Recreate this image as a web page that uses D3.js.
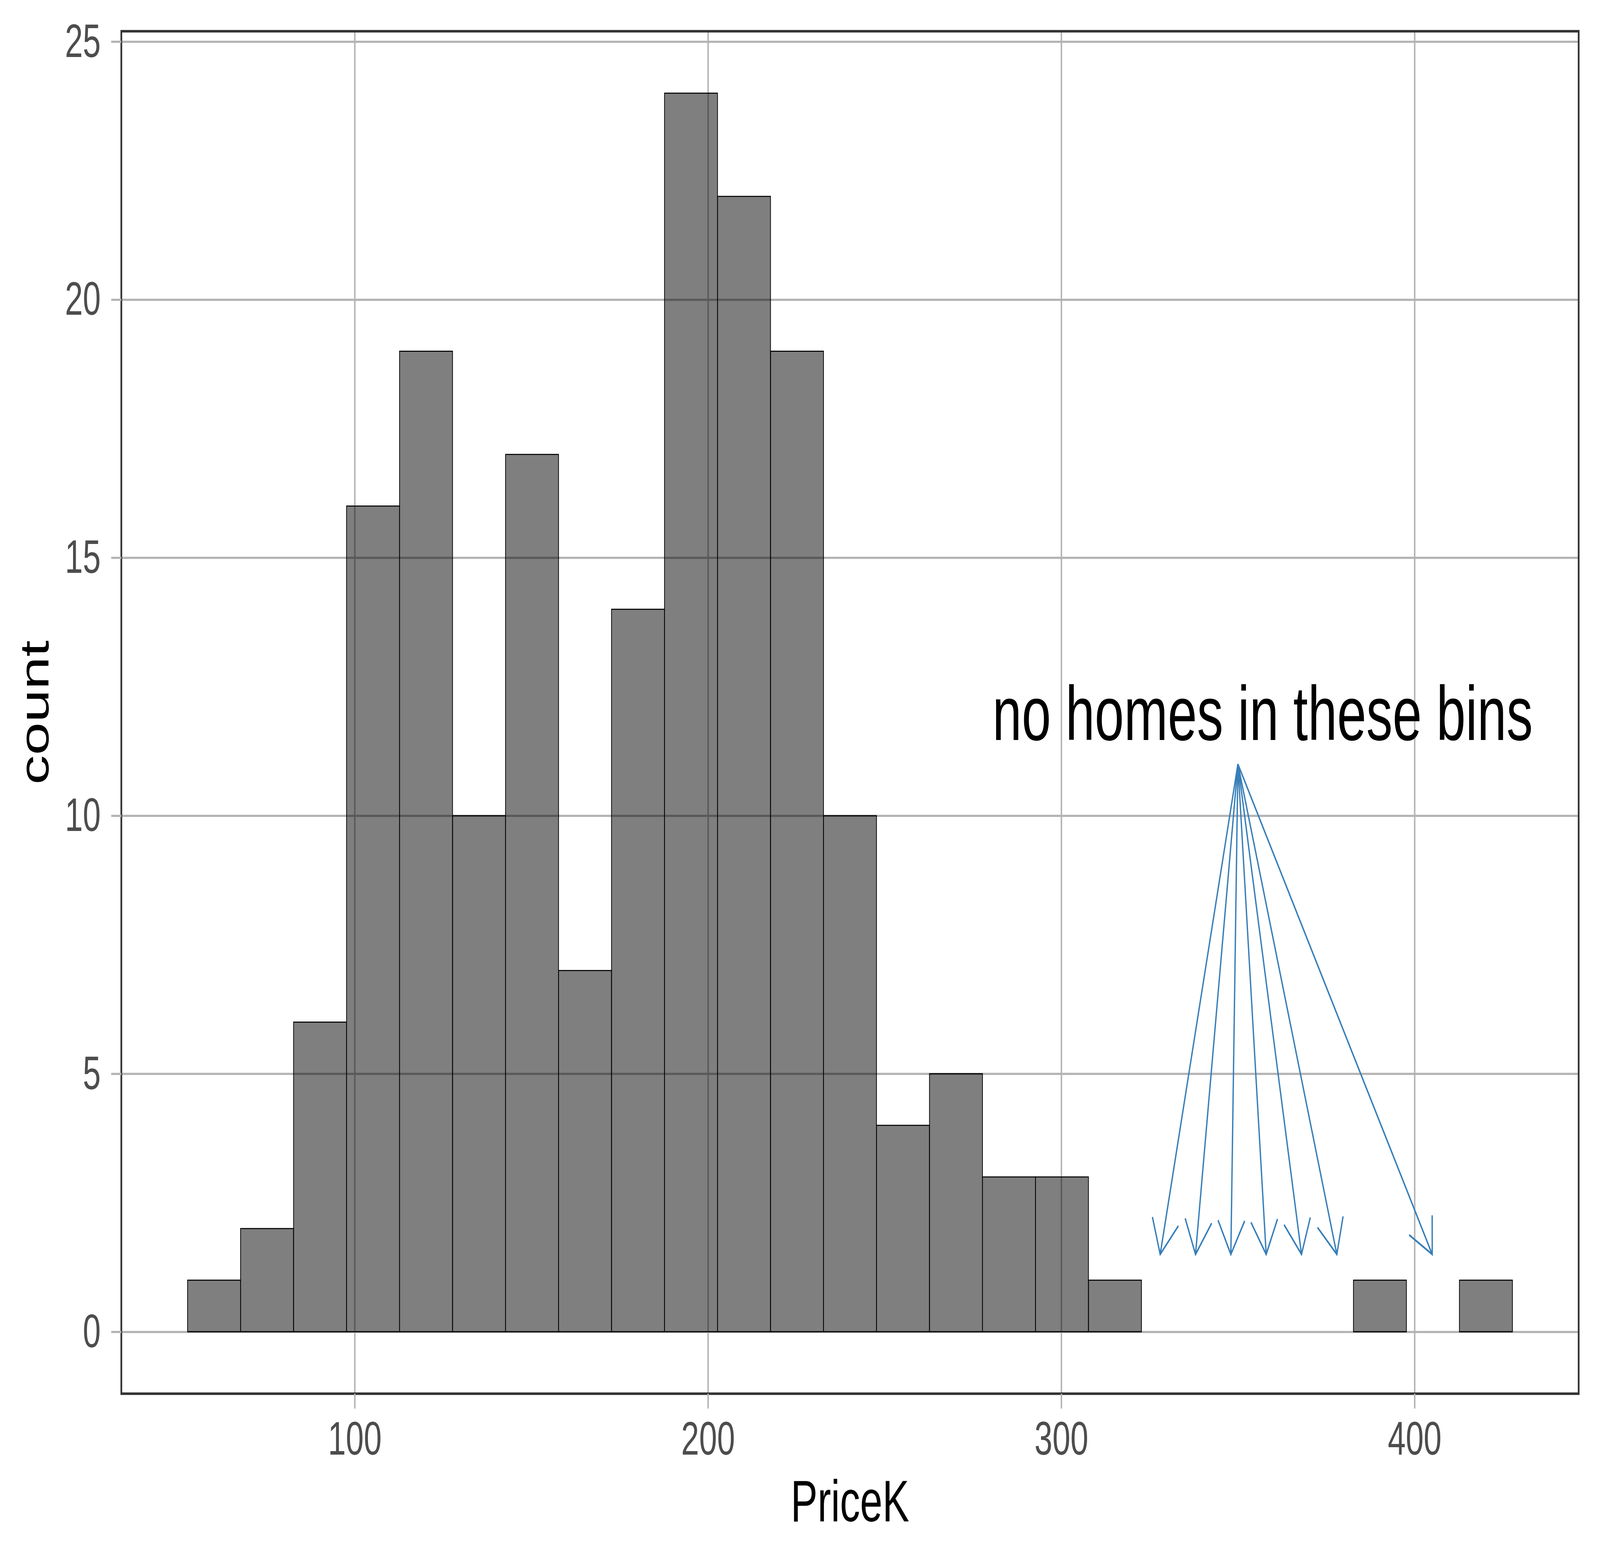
<!DOCTYPE html>
<html>
<head>
<meta charset="utf-8">
<script src="https://cdn.jsdelivr.net/npm/d3@7"></script>
<style>
  html, body { margin: 0; padding: 0; background: #fff; overflow: hidden; }
  #chart { width: 100vw; height: 100vh; }
  #chart svg { display: block; width: 100%; height: 100%; }
  svg text { font-family: "Liberation Sans", Arial, sans-serif; }
</style>
</head>
<body>
<div id="chart"></div>
<script>
// histogram bins (PriceK) and counts
const binEdges = [52.7, 67.7, 82.7, 97.7, 112.7, 127.7, 142.7, 157.7, 172.7, 187.7, 202.7,
  217.7, 232.7, 247.7, 262.7, 277.7, 292.7, 307.7, 322.7, 337.7, 352.7, 367.7, 382.7,
  397.7, 412.7, 427.7];
const counts = [1, 2, 6, 16, 19, 10, 17, 7, 14, 24, 22, 19, 10, 4, 5, 3, 3, 1, 0, 0, 0, 0, 1, 0, 1];

const xTicks = [100, 200, 300, 400];
const yTicks = [0, 5, 10, 15, 20, 25];

// annotation
const noteText = 'no homes in these bins';
const notePos = [357, 12];
const arrowFrom = [350, 11];
const arrowTargetsX = [328, 338, 348, 358, 368, 378, 405];
const arrowTargetY = 1.5;

// drawn on a 6000x4000 canvas, stretched to whatever the window gives
const width = 6000, height = 4000;
const margin = {top: 80, right: 80, bottom: 431, left: 455};
const innerW = width - margin.left - margin.right;
const innerH = height - margin.top - margin.bottom;

const bins = counts.map((c, i) => ({x0: binEdges[i], x1: binEdges[i + 1], count: c}));

// ggplot style 5% expansion on both scales
const xMin = binEdges[0], xMax = binEdges[binEdges.length - 1];
const xPad = (xMax - xMin) * 0.05;
const x = d3.scaleLinear().domain([xMin - xPad, xMax + xPad]).range([0, innerW]);
const yMax = d3.max(counts);
const y = d3.scaleLinear().domain([-yMax * 0.05, yMax * 1.05]).range([innerH, 0]);

const svg = d3.select('#chart').append('svg')
  .attr('viewBox', `0 0 ${width} ${height}`)
  .attr('preserveAspectRatio', 'none');

svg.append('rect').attr('width', width).attr('height', height).attr('fill', '#fff');

const g = svg.append('g').attr('transform', `translate(${margin.left},${margin.top})`);

// gridlines
g.append('g').attr('class', 'grid')
  .call(d3.axisBottom(x).tickValues(xTicks).tickSize(innerH).tickFormat(''));
g.append('g').attr('class', 'grid')
  .call(d3.axisLeft(y).tickValues(yTicks).tickSize(-innerW).tickFormat(''));
g.selectAll('.grid .domain').remove();
g.selectAll('.grid line').attr('stroke', '#B3B3B3').attr('stroke-width', 5.5);

// bars
g.append('g').selectAll('rect')
  .data(bins)
  .join('rect')
    .attr('x', d => x(d.x0))
    .attr('y', d => y(d.count))
    .attr('width', d => x(d.x1) - x(d.x0))
    .attr('height', d => y(0) - y(d.count))
    .attr('fill', '#000')
    .attr('fill-opacity', 0.5)
    .attr('stroke', '#000')
    .attr('stroke-width', 2.7);

// arrows
const arrowLen = 100, arrowAng = Math.PI / 6;
const arrows = g.append('g')
  .attr('fill', 'none')
  .attr('stroke', '#377EB8')
  .attr('stroke-width', 5)
  .attr('stroke-linejoin', 'miter');

arrowTargetsX.forEach(tx => {
  const x0 = x(arrowFrom[0]), y0 = y(arrowFrom[1]);
  const x1 = x(tx), y1 = y(arrowTargetY);
  const a = Math.atan2(y0 - y1, x0 - x1);
  arrows.append('line')
    .attr('x1', x0).attr('y1', y0)
    .attr('x2', x1).attr('y2', y1);
  const p1 = [x1 + arrowLen * Math.cos(a + arrowAng), y1 + arrowLen * Math.sin(a + arrowAng)];
  const p2 = [x1 + arrowLen * Math.cos(a - arrowAng), y1 + arrowLen * Math.sin(a - arrowAng)];
  arrows.append('path')
    .attr('d', `M${p1[0]},${p1[1]}L${x1},${y1}L${p2[0]},${p2[1]}`);
});

// annotation text
g.append('text')
  .attr('x', x(notePos[0]))
  .attr('y', y(notePos[1]) + 197 * 0.36)
  .attr('text-anchor', 'middle')
  .attr('font-size', 197)
  .attr('fill', '#000')
  .text(noteText);

// panel border
g.append('rect')
  .attr('width', innerW)
  .attr('height', innerH)
  .attr('fill', 'none')
  .attr('stroke', '#333333')
  .attr('stroke-width', 6.5);

// axes
const xAxisG = g.append('g')
  .attr('transform', `translate(0,${innerH})`)
  .call(d3.axisBottom(x).tickValues(xTicks).tickSize(38).tickPadding(32));
const yAxisG = g.append('g')
  .call(d3.axisLeft(y).tickValues(yTicks).tickSize(38).tickPadding(39));
[xAxisG, yAxisG].forEach(a => {
  a.select('.domain').remove();
  a.selectAll('line').attr('stroke', '#B3B3B3').attr('stroke-width', 5.5);
  a.selectAll('text')
    .attr('font-size', 121)
    .attr('fill', '#4D4D4D')
    .attr('font-family', '"Liberation Sans", Arial, sans-serif');
});

// axis titles
svg.append('text')
  .attr('x', margin.left + innerW / 2)
  .attr('y', 3896)
  .attr('text-anchor', 'middle')
  .attr('font-size', 151)
  .attr('fill', '#000')
  .text('PriceK');

svg.append('text')
  .attr('transform', `translate(182,${margin.top + innerH / 2}) rotate(-90)`)
  .attr('text-anchor', 'middle')
  .attr('font-size', 151)
  .attr('fill', '#000')
  .text('count');
</script>
</body>
</html>
